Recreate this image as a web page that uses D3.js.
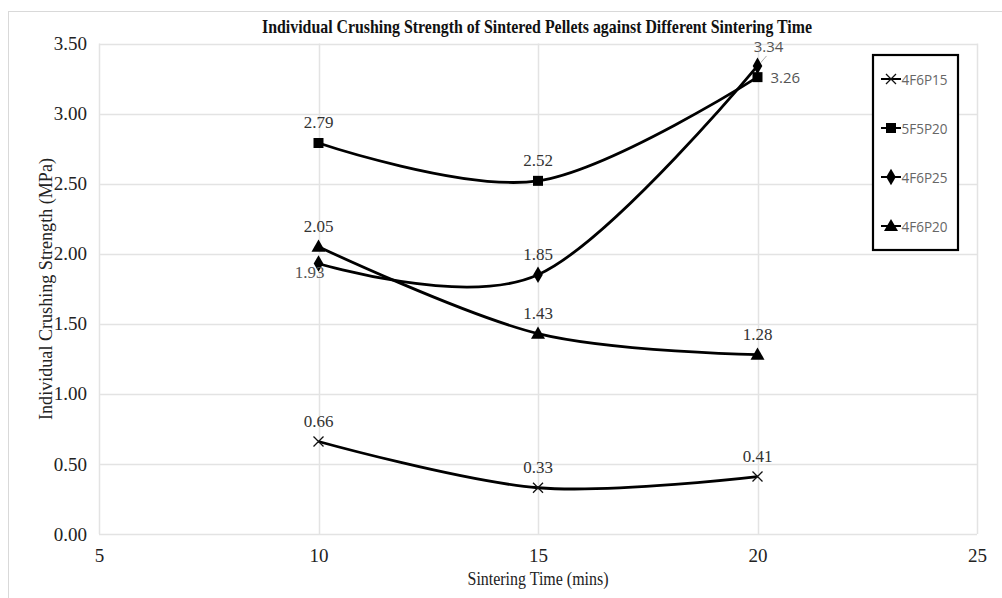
<!DOCTYPE html>
<html>
<head>
<meta charset="utf-8">
<script src="https://cdn.jsdelivr.net/npm/d3@7"></script>
<style>
  html, body { margin: 0; padding: 0; background: #fff; }
  svg { display: block; }
</style>
</head>
<body>
<svg id="chart" width="1002" height="598"></svg>
<script>
// Sintering time (mins) and crushing strength (MPa) per pellet mix
const times = [10, 15, 20];
const seriesNames = ["4F6P15", "5F5P20", "4F6P25", "4F6P20"];
const s4F6P15 = [0.66, 0.33, 0.41];
const s5F5P20 = [2.79, 2.52, 3.26];
const s4F6P25 = [1.93, 1.85, 3.34];
const s4F6P20 = [2.05, 1.43, 1.28];
const xTicks = [5, 10, 15, 20, 25];
const yTicks = [0, 0.5, 1, 1.5, 2, 2.5, 3, 3.5];

const seriesValues = [s4F6P15, s5F5P20, s4F6P25, s4F6P20];
const markers = ["cross", "square", "diamond", "triangle"];

const svg = d3.select("#chart");
const serif = "'Liberation Serif', 'Times New Roman', serif";
const sans = "'Open Sans', 'Noto Sans', sans-serif";

const x = d3.scaleLinear().domain([5, 25]).range([99, 977]);
const y = d3.scaleLinear().domain([0, 3.5]).range([534, 43.5]);

// chart frame
svg.append("rect").attr("x", 8.5).attr("y", 11.5).attr("width", 1010).attr("height", 600)
  .attr("fill", "none").attr("stroke", "#d9d9d9").attr("stroke-width", 1);

// gridlines
const grid = svg.append("g");
grid.selectAll("line.h").data(yTicks).join("line")
  .attr("x1", x(5)).attr("x2", x(25))
  .attr("y1", d => Math.round(y(d)) + 0.5).attr("y2", d => Math.round(y(d)) + 0.5)
  .attr("stroke", "#e3e3e3").attr("stroke-width", 1.5);
grid.selectAll("line.v").data(xTicks).join("line")
  .attr("y1", y(0)).attr("y2", y(3.5))
  .attr("x1", d => Math.round(x(d)) + 0.5).attr("x2", d => Math.round(x(d)) + 0.5)
  .attr("stroke", "#e3e3e3").attr("stroke-width", 1.5);

// axes (labels only, lines come from the grid)
const yAxis = svg.append("g").attr("transform", `translate(${x(5)},0)`)
  .call(d3.axisLeft(y).tickValues(yTicks).tickFormat(d3.format(".2f")).tickSize(0).tickPadding(12));
const xAxis = svg.append("g").attr("transform", `translate(0,${y(0)})`)
  .call(d3.axisBottom(x).tickValues(xTicks).tickFormat(d3.format("d")).tickSize(0).tickPadding(15));
[yAxis, xAxis].forEach(a => {
  a.select(".domain").remove();
  a.attr("font-family", serif).attr("font-size", 19);
  a.selectAll("text").attr("font-family", serif).attr("font-size", 19).attr("fill", "#222");
});

// titles (condensed serif)
svg.append("text").attr("x", 537).attr("y", 33).attr("text-anchor", "middle")
  .attr("font-family", serif).attr("font-weight", "bold").attr("font-size", 19)
  .attr("textLength", 550).attr("lengthAdjust", "spacingAndGlyphs")
  .attr("fill", "#111").text("Individual Crushing Strength of Sintered Pellets against Different Sintering Time");
svg.append("text").attr("x", 538).attr("y", 585).attr("text-anchor", "middle")
  .attr("font-family", serif).attr("font-size", 19).attr("fill", "#222")
  .attr("textLength", 141).attr("lengthAdjust", "spacingAndGlyphs")
  .text("Sintering Time (mins)");
svg.append("text").attr("transform", "translate(52,289) rotate(-90)").attr("text-anchor", "middle")
  .attr("font-family", serif).attr("font-size", 19).attr("fill", "#222")
  .attr("textLength", 262).attr("lengthAdjust", "spacingAndGlyphs")
  .text("Individual Crushing Strength (MPa)");

// marker shapes
function drawMarker(g, type, cx, cy) {
  if (type === "cross") {
    g.append("path").attr("d", `M${cx-5},${cy-5}L${cx+5},${cy+5}M${cx-5},${cy+5}L${cx+5},${cy-5}`)
      .attr("stroke", "#111").attr("stroke-width", 1.3).attr("fill", "none");
  } else {
    const sym = type === "square" ? d3.symbolSquare : type === "diamond" ? d3.symbolDiamond : d3.symbolTriangle;
    const size = type === "square" ? 100 : type === "diamond" ? 80 : 85;
    g.append("path").attr("d", d3.symbol().type(sym).size(size)())
      .attr("transform", `translate(${cx},${cy + (type === "triangle" ? 1 : 0)})`)
      .attr("fill", "#000");
  }
}

// smoothed series lines
const line = d3.line().x((d, i) => x(times[i])).y(d => y(d)).curve(d3.curveCatmullRom.alpha(0));
const plot = svg.append("g");
seriesValues.forEach(vals => {
  plot.append("path").datum(vals).attr("d", line)
    .attr("fill", "none").attr("stroke", "#000").attr("stroke-width", 2.8);
});
seriesValues.forEach((vals, si) => {
  vals.forEach((v, i) => drawMarker(plot, markers[si], x(times[i]), y(v)));
});

// data labels: [dx, dy, font, anchor]
const labelPos = [
  [[0, -15, "serif"], [0, -15, "serif"], [0, -15, "serif"]],
  [[0, -15, "serif"], [0, -15, "serif"], [13, 5.5, "sans", "start"]],
  [[-9, 14, "serif"], [0, -15, "serif"], [11, -14, "sans"]],
  [[0, -15, "serif"], [0, -15, "serif"], [0, -15, "serif"]]
];
const labels = svg.append("g");
seriesValues.forEach((vals, si) => {
  vals.forEach((v, i) => {
    const p = labelPos[si][i];
    const isSans = p[2] === "sans";
    labels.append("text")
      .attr("x", x(times[i]) + p[0]).attr("y", y(v) + p[1])
      .attr("text-anchor", p[3] || "middle")
      .attr("font-family", isSans ? sans : serif)
      .attr("font-size", isSans ? 15 : 17)
      .attr("fill", isSans ? "#555" : (si === 2 && i === 0 ? "#555" : "#333"))
      .text(d3.format(".2f")(v));
  });
});
// leader line for the 3.34 label
labels.append("line")
  .attr("x1", x(20) + 3).attr("y1", y(3.34) - 3)
  .attr("x2", x(20) + 9).attr("y2", y(3.34) - 10)
  .attr("stroke", "#aaa").attr("stroke-width", 1);

// legend
const lg = svg.append("g");
lg.append("rect").attr("x", 873).attr("y", 55).attr("width", 85).attr("height", 195)
  .attr("fill", "#fff").attr("stroke", "#000").attr("stroke-width", 2.2);
seriesNames.forEach((name, i) => {
  const cy = 79 + i * 49;
  lg.append("line").attr("x1", 881).attr("x2", 901).attr("y1", cy).attr("y2", cy)
    .attr("stroke", "#000").attr("stroke-width", 2);
  drawMarker(lg, markers[i], 891, cy);
  lg.append("text").attr("x", 901.5).attr("y", cy + 5.5)
    .attr("font-family", sans).attr("font-size", 15).attr("fill", "#666")
    .attr("textLength", 46).attr("lengthAdjust", "spacingAndGlyphs").text(name);
});
</script>
</body>
</html>
